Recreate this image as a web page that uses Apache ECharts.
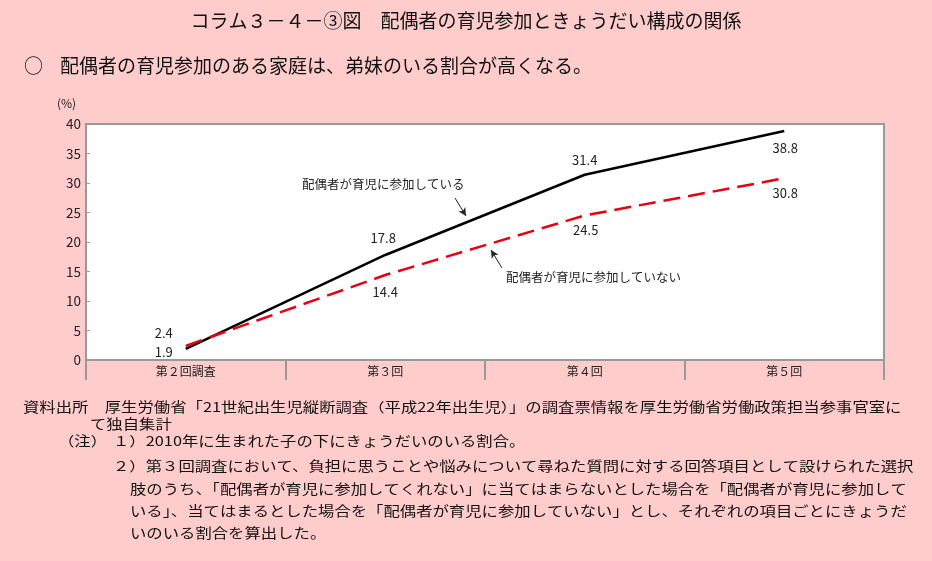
<!DOCTYPE html>
<html><head><meta charset="utf-8">
<script src="https://cdn.jsdelivr.net/npm/echarts@6/dist/echarts.min.js"></script>
<style>html,body{margin:0;padding:0;background:#ffcccc;}#c{width:932px;height:561px;}</style>
</head><body><div id="c"></div>
<script>
const categories = ['第２回調査', '第３回', '第４回', '第５回'];
const participating = [1.9, 17.8, 31.4, 38.8];
const notParticipating = [2.4, 14.4, 24.5, 30.8];
const yTicks = [0, 5, 10, 15, 20, 25, 30, 35, 40];
const participatingName = '配偶者が育児に参加している';
const notParticipatingName = '配偶者が育児に参加していない';
const titleText = 'コラム３－４－③図　配偶者の育児参加ときょうだい構成の関係';
const subtitleText = '配偶者の育児参加のある家庭は、弟妹のいる割合が高くなる。';
const noteLines = [
  ['資料出所　厚生労働省「21世紀出生児縦断調査（平成22年出生児）」の調査票情報を厚生労働省労働政策担当参事官室に', 23, 407],
  ['て独自集計', 90, 424],
  ['（注）', 58, 441],
  ['１）2010年に生まれた子の下にきょうだいのいる割合。', 113, 441],
  ['２）第３回調査において、負担に思うことや悩みについて尋ねた質問に対する回答項目として設けられた選択', 113, 466],
  ['肢のうち、「配偶者が育児に参加してくれない」に当てはまらないとした場合を「配偶者が育児に参加して', 130, 489],
  ['いる」、当てはまるとした場合を「配偶者が育児に参加していない」とし、それぞれの項目ごとにきょうだ', 130, 511],
  ['いのいる割合を算出した。', 130, 533]
];
const blackOffsets = [[-22, 3], [-2, -17], [0, -15], [1, 17]];
const redOffsets = [[-22, -13], [0, 17], [1, 15], [1, 15]];

const FONT = '"Noto Sans CJK JP", "Noto Sans", sans-serif';
const chart = echarts.init(document.getElementById('c'));

function mk(values, offs) {
  return values.map((v, i) => ({
    value: v,
    label: { show: true, position: 'inside', offset: offs[i], formatter: v.toFixed(1),
      color: '#222', fontSize: 13, fontFamily: FONT }
  }));
}

const graphics = [
  { type: 'text', left: 'center', top: 11, style: { text: titleText, font: '19px ' + FONT, fill: '#111' } },
  { type: 'text', left: 24, top: 56, style: { text: '○', font: '19px ' + FONT, fill: '#111' } },
  { type: 'text', left: 60, top: 56, style: { text: subtitleText, font: '19px ' + FONT, fill: '#111' } },
  { type: 'text', left: 57, top: 97, style: { text: '(%)', font: '12px ' + FONT, fill: '#222' } },
  { type: 'text', left: 302, top: 178, style: { text: participatingName, font: '12.5px ' + FONT, fill: '#222' } },
  { type: 'text', left: 506, top: 271, style: { text: notParticipatingName, font: '12.5px ' + FONT, fill: '#222' } }
];
noteLines.forEach(([t, x, y]) => {
  graphics.push({ type: 'text', x: x, y: y, scaleX: 1.24, scaleY: 1,
    style: { text: t, x: 0, y: 0, font: '13.2px ' + FONT, fill: '#111', textVerticalAlign: 'middle', verticalAlign: 'middle' } });
});

chart.setOption({
  backgroundColor: '#ffcccc',
  animation: false,
  grid: { left: 86, right: 48, top: 124, bottom: 201, show: true, backgroundColor: '#ffffff', borderColor: '#999', borderWidth: 2 },
  xAxis: {
    type: 'category', data: categories, boundaryGap: true,
    axisLine: { lineStyle: { color: '#999', width: 2 } },
    axisTick: { show: true, length: 20, lineStyle: { color: '#999', width: 2 } },
    axisLabel: { color: '#222', fontSize: 12, fontFamily: FONT, margin: 5 }
  },
  yAxis: {
    type: 'value', min: 0, max: 40, interval: 5,
    axisLine: { show: true, lineStyle: { color: '#999', width: 2 } },
    axisTick: { show: true, inside: true, length: 4, lineStyle: { color: '#999' } },
    splitLine: { show: false },
    axisLabel: { color: '#222', fontSize: 13.5, fontFamily: FONT, margin: 5,
      formatter: v => yTicks.includes(v) ? String(v) : '' }
  },
  series: [
    { type: 'line', name: participatingName, data: mk(participating, blackOffsets),
      symbol: 'circle', symbolSize: 0.1, itemStyle: { color: '#000' },
      lineStyle: { color: '#000', width: 2.5 },
      markLine: { silent: true, symbol: ['none', 'arrow'], symbolSize: [6, 8], label: { show: false },
        lineStyle: { color: '#222', width: 1, type: 'solid' },
        data: [[{ x: 455, y: 198 }, { x: 466, y: 216 }]] } },
    { type: 'line', name: notParticipatingName, data: mk(notParticipating, redOffsets),
      symbol: 'circle', symbolSize: 0.1, itemStyle: { color: '#e60012' },
      lineStyle: { color: '#e60012', width: 2.5, type: [17, 8] },
      markLine: { silent: true, symbol: ['none', 'arrow'], symbolSize: [6, 8], label: { show: false },
        lineStyle: { color: '#222', width: 1, type: 'solid' },
        data: [[{ x: 502, y: 268 }, { x: 491, y: 250 }]] } }
  ],
  graphic: graphics
});
</script></body></html>
